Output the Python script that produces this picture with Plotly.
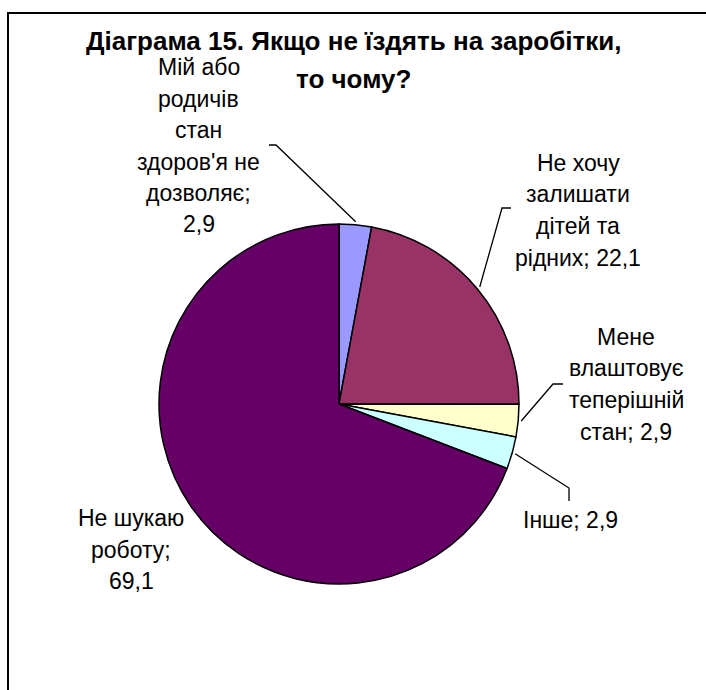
import math
import plotly.graph_objects as go

# ---- data ----
categories = [
    "Мій або родичів стан здоров'я не дозволяє",
    "Не хочу залишати дітей та рідних",
    "Мене влаштовує теперішній стан",
    "Інше",
    "Не шукаю роботу",
]
values = [2.9, 22.1, 2.9, 2.9, 69.1]
value_labels = ["2,9", "22,1", "2,9", "2,9", "69,1"]
colors = ["#9999FF", "#993366", "#FFFFCC", "#CCFFFF", "#660066"]
title_lines = ["Діаграма 15. Якщо не їздять на заробітки,", "то чому?"]
label_lines = [
    ["Мій або", "родичів", "стан", "здоров'я не", "дозволяє;", "2,9"],
    ["Не хочу", "залишати", "дітей та", "рідних; 22,1"],
    ["Мене", "влаштовує", "теперішній", "стан; 2,9"],
    ["Інше; 2,9"],
    ["Не шукаю", "роботу;", "69,1"],
]

# ---- layout geometry (pixels) ----
W, H = 706, 690
CX, CY, R = 339, 404, 180
FONT = "Arial, Liberation Sans, sans-serif"
FS = 23
LINE_H = 31.5

# label block: (center x, first baseline y)
label_pos = [(199, 75), (578, 171), (626, 345), (570, 528), (131, 526)]
# leader elbows: list of points after slice anchor (None = no leader)
leader_elbows = [
    [(276, 145), (269, 145)],
    [(502, 208), (511, 208)],
    [(553, 384), (563, 384)],
    [(569, 488), (569, 501)],
    None,
]


def px(x):
    return x / W


def py(y):
    return 1 - y / H


fig = go.Figure()
fig.add_trace(go.Pie(
    labels=categories,
    values=values,
    sort=False,
    direction="clockwise",
    rotation=0,
    marker=dict(colors=colors, line=dict(color="black", width=1.5)),
    textinfo="none",
    hoverinfo="label+value",
    showlegend=False,
    domain=dict(x=[px(CX - R), px(CX + R)], y=[py(CY + R), py(CY - R)]),
))

annotations = []
shapes = []

# title
for i, t in enumerate(title_lines):
    annotations.append(dict(
        text="<b>" + t + "</b>", x=px(353), y=py([47, 85][i] - 6),
        xref="paper", yref="paper", xanchor="center", yanchor="middle",
        showarrow=False, font=dict(family=FONT, size=26, color="black"),
    ))

# labels
for k, lines in enumerate(label_lines):
    lx, ly = label_pos[k]
    for j, ln in enumerate(lines):
        annotations.append(dict(
            text=ln, x=px(lx), y=py(ly + j * LINE_H - 8),
            xref="paper", yref="paper", xanchor="center", yanchor="middle",
            showarrow=False, font=dict(family=FONT, size=FS, color="black"),
        ))

# leader lines from slice mid-angles
total = sum(values)
cum = 0.0
for k, v in enumerate(values):
    mid = (cum + v / 2) / total * 2 * math.pi
    cum += v
    if leader_elbows[k] is None:
        continue
    sx = CX + 183 * math.sin(mid)
    sy = CY - 183 * math.cos(mid)
    pts = [(sx, sy)] + leader_elbows[k]
    path = "M " + " L ".join(f"{px(a):.5f},{py(b):.5f}" for a, b in pts)
    shapes.append(dict(type="path", path=path, xref="paper", yref="paper",
                       line=dict(color="black", width=1.3)))

# chart frame
shapes.append(dict(type="rect", xref="paper", yref="paper",
                   x0=px(8), y0=-0.05, x1=1.05, y1=py(13),
                   line=dict(color="black", width=2)))

fig.update_layout(
    width=W, height=H,
    margin=dict(l=0, r=0, t=0, b=0),
    paper_bgcolor="white", plot_bgcolor="white",
    annotations=annotations, shapes=shapes,
)

fig.write_html(
    "out.html",
    config={"displayModeBar": False},
    post_script="document.body.style.margin='0';document.body.style.overflow='hidden';",
)
